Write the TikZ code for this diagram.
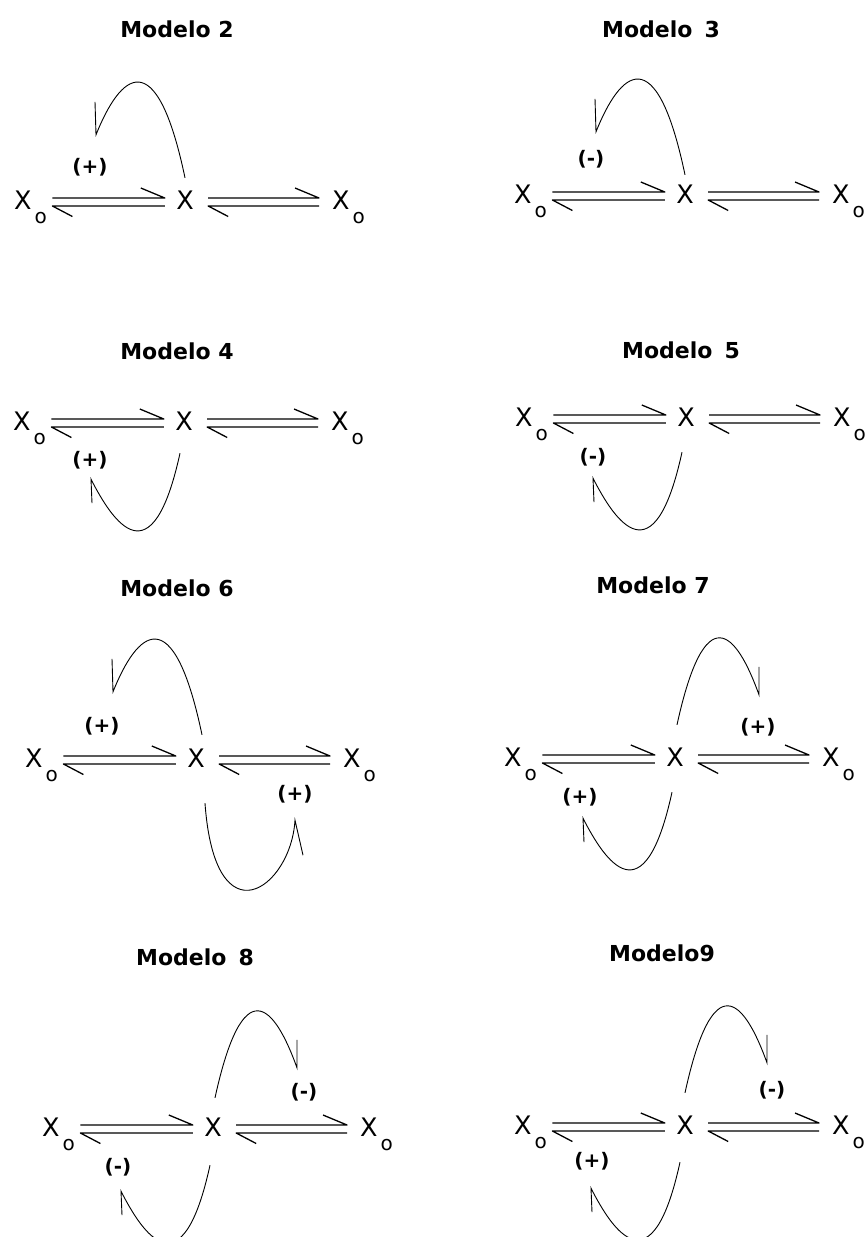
\documentclass[tikz,border=0pt]{standalone}
\usepackage{fontspec}
\setmainfont{DejaVu Sans}
\usetikzlibrary{calc}
\tikzset{
 eqline/.style={line width=1.3pt, line join=round},
 loopline/.style={line width=0.9pt},
 species/.style={inner sep=0pt, font=\fontsize{25.5}{28}\selectfont},
 sign/.style={inner sep=0pt, font=\bfseries\fontsize{20}{22}\selectfont},
 title/.style={inner sep=0pt, font=\bfseries\fontsize{22}{26}\selectfont},
}
\newcommand\Xo{X\kern3pt\raisebox{-14pt}{\fontsize{20}{21}\selectfont o}}
\newcommand\eqrow[3]{%
 \node[species, anchor=base] (#1X) at (#2,-#3) {X};
 \node[species, anchor=base west] (#1L) at ($(#1X.base)+(-171,0)$) {\Xo};
 \node[species, anchor=base west] (#1R) at ($(#1X.base)+(147,0)$) {\Xo};
 \draw[eqline] ([shift={(5.3,11.5)}]#1L.base east) -- ([shift={(-11.25,11.5)}]#1X.base west) -- ++(-24,10);
 \draw[eqline] ([shift={(-11.25,3.5)}]#1X.base west) -- ([shift={(5.3,3.5)}]#1L.base east) -- ++(20,-10.5);
 \draw[eqline] ([shift={(14.25,11.5)}]#1X.base east) -- ([shift={(-13,11.5)}]#1R.base west) -- ++(-24,10);
 \draw[eqline] ([shift={(-13,3.5)}]#1R.base west) -- ([shift={(14.25,3.5)}]#1X.base east) -- ++(20,-10.5);
}
\newcommand\loopUL[2]{\coordinate (#1s) at (#2);
 \draw[loopline] (#1s) .. controls ($(#1s)+(-29,138)$) and ($(#1s)+(-65,103)$) .. ($(#1s)+(-89,43)$) coordinate (#1e) -- ++(-1,33);}
\newcommand\loopDL[2]{\coordinate (#1s) at (#2);
 \draw[loopline] (#1s) .. controls ($(#1s)+(-28,-128)$) and ($(#1s)+(-67,-69)$) .. ($(#1s)+(-89,-26)$) coordinate (#1e) -- ++(1,-24);}
\newcommand\loopUR[2]{\coordinate (#1s) at (#2);
 \draw[loopline] (#1s) .. controls ($(#1s)+(28,128)$) and ($(#1s)+(59,94)$) .. ($(#1s)+(82,30)$) coordinate (#1e) -- ++(0,28);}
\newcommand\loopDR[2]{\coordinate (#1s) at (#2);
 \draw[loopline] (#1s) .. controls ($(#1s)+(10,-140)$) and ($(#1s)+(86,-85)$) .. ($(#1s)+(90,-17)$) coordinate (#1e) -- ++(8,-35);}
\begin{document}
\begin{tikzpicture}[x=1pt,y=1pt]
\clip (0,0) rectangle (866,-1237);
\fill[white] (0,0) rectangle (866,-1237);
% Modelo 2
\node[title] (t2) at (177,-29) {Modelo 2};
\eqrow{m2}{185}{209.5}
\loopUL{a2}{[shift={(0,12.9)}]m2X.north}
\node[sign] (s2) at (90,-167) {(+)};
% Modelo 3
\node[title] (t3) at (661,-29) {Modelo\hspace{12pt}3};
\eqrow{m3}{685}{203.5}
\loopUL{a3}{[shift={(0,9.9)}]m3X.north}
\node[sign] (s3) at (591,-159) {(-)};
% Modelo 4
\node[title] (t4) at (177,-351) {Modelo 4};
\eqrow{m4}{184}{430.5}
\loopDL{a4}{[shift={(-4,-22.5)}]m4X.south}
\node[sign] (s4) at (90,-460) {(+)};
% Modelo 5
\node[title] (t5) at (681,-350) {Modelo\hspace{12pt}5};
\eqrow{m5}{686}{426.5}
\loopDL{a5}{[shift={(-4,-25.5)}]m5X.south}
\node[sign] (s5) at (593,-457) {(-)};
% Modelo 6
\node[title] (t6) at (177,-588) {Modelo 6};
\eqrow{m6}{196}{767.5}
\loopUL{a6}{[shift={(6,13.9)}]m6X.north}
\loopDR{b6}{[shift={(9,-35.5)}]m6X.south}
\node[sign] (s6a) at (102,-726) {(+)};
\node[sign] (s6b) at (295,-794) {(+)};
% Modelo 7
\node[title] (t7) at (653,-585) {Modelo 7};
\eqrow{m7}{675}{766.5}
\loopUR{a7}{[shift={(2,22.9)}]m7X.north}
\loopDL{b7}{[shift={(-3,-25.5)}]m7X.south}
\node[sign] (s7a) at (758,-727) {(+)};
\node[sign] (s7b) at (580,-797) {(+)};
% Modelo 8
\node[title] (t8) at (195,-957) {Modelo\hspace{12pt}8};
\eqrow{m8}{213}{1136.5}
\loopUR{a8}{[shift={(2,19.9)}]m8X.north}
\loopDL{b8}{[shift={(-3,-28.5)}]m8X.south}
\node[sign] (s8a) at (304,-1092) {(-)};
\node[sign] (s8b) at (118,-1167) {(-)};
% Modelo 9
\node[title] (t9) at (662,-953) {Modelo9};
\eqrow{m9}{685}{1134.5}
\loopUR{a9}{[shift={(0,22.9)}]m9X.north}
\loopDL{b9}{[shift={(-5,-27.5)}]m9X.south}
\node[sign] (s9a) at (772,-1090) {(-)};
\node[sign] (s9b) at (592,-1161) {(+)};
\end{tikzpicture}
\end{document}
